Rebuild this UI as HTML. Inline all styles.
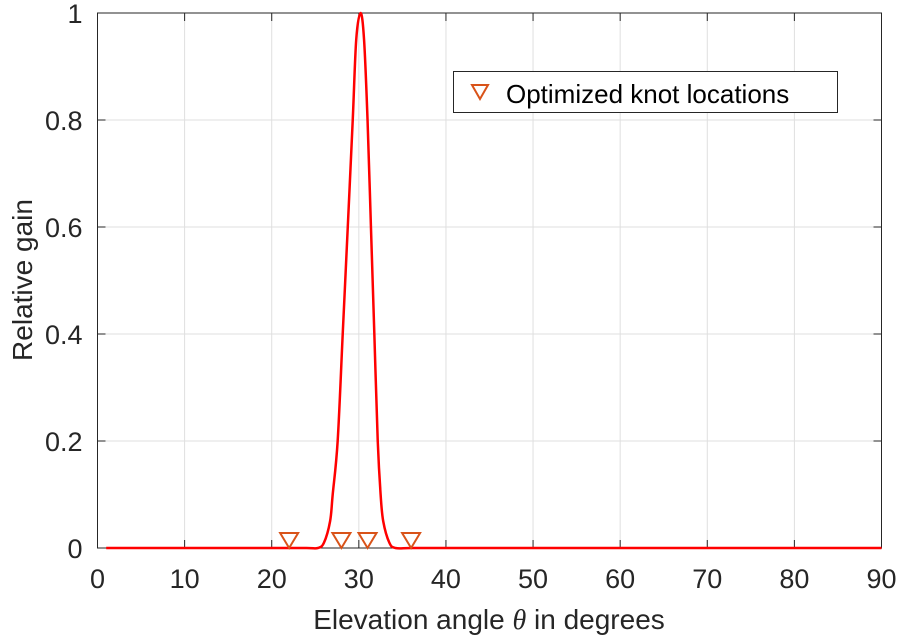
<!DOCTYPE html>
<html><head><meta charset="utf-8">
<style>
html,body{margin:0;padding:0;background:#fff;}
svg{display:block;font-family:"Liberation Sans",Arial,sans-serif;}
</style></head>
<body>
<svg id="chart" width="900" height="638" viewBox="0 0 900 638">
<g id="grid"></g>
<g id="axes"></g>
<g id="series"></g>
<g>
<rect x="453.5" y="71.5" width="384" height="41" fill="#fff" stroke="#262626" stroke-width="1"/>
<polygon points="472,85 488,85 480,99" fill="none" stroke="#D95319" stroke-width="2"/>
<text x="506" y="103" font-size="26" fill="#000">Optimized knot locations</text>
</g>
<text x="489" y="629" font-size="28" text-anchor="middle" fill="#262626">Elevation angle <tspan font-family="Liberation Serif" font-style="italic">θ</tspan> in degrees</text>
<text transform="translate(32,280) rotate(-90)" font-size="28" text-anchor="middle" fill="#262626">Relative gain</text>
</svg>
<script>
const xTicks=[0,10,20,30,40,50,60,70,80,90];
const yTicks=[0,0.2,0.4,0.6,0.8,1];
const yTickLabels=["0","0.2","0.4","0.6","0.8","1"];
const curveX=[1,10,20,24,25.3,26,26.7,27,27.57,28.15,28.73,29.3,29.7,30.2,30.6,31,31.39,31.78,32.17,32.5,32.8,33.5,34.2,36,40,50,60,70,80,90];
const curveY=[0,0,0,0,0,0.01,0.05,0.1,0.2,0.4,0.6,0.8,0.95,1,0.95,0.8,0.6,0.4,0.2,0.1,0.05,0.01,0,0,0,0,0,0,0,0];
const knotX=[22,28,31,36];
const knotY=[0.015,0.015,0.015,0.015];

const X0=97.5,X1=881.5,Y0=548,Y1=13;
const sx=v=>X0+(v-0)/(90-0)*(X1-X0);
const sy=v=>Y0-(v-0)/(1-0)*(Y0-Y1);
const NS="http://www.w3.org/2000/svg";
function mk(tag,parent,attrs){const e=document.createElementNS(NS,tag);for(const k in attrs)e.setAttribute(k,attrs[k]);parent.appendChild(e);return e;}
const grid=document.getElementById('grid'),axes=document.getElementById('axes'),series=document.getElementById('series');

xTicks.forEach(t=>{
  const x=sx(t);
  if(t>0&&t<90){const g=mk('line',grid,{x1:x,x2:x,y1:Y1,y2:Y0,stroke:'#dfdfdf','stroke-width':1});
  
  }
  const tk=mk('line',axes,{x1:x,x2:x,y1:Y0,y2:Y0-8,stroke:'#262626','stroke-width':1});
  
  
  const tk2=mk('line',axes,{x1:x,x2:x,y1:Y1,y2:Y1+8,stroke:'#262626','stroke-width':1});
  
  
  const lb=mk('text',axes,{x:x,y:Y0+40,'font-size':27,'text-anchor':'middle',fill:'#262626'});
  lb.textContent=String(t);
  
  
});
yTicks.forEach((t,i)=>{
  const y=sy(t);
  if(t>0&&t<1){const g=mk('line',grid,{x1:X0,x2:X1,y1:y,y2:y,stroke:'#dfdfdf','stroke-width':1});
  
  }
  const tk=mk('line',axes,{x1:X0,x2:X0+8,y1:y,y2:y,stroke:'#262626','stroke-width':1});
  
  
  const tk2=mk('line',axes,{x1:X1,x2:X1-8,y1:y,y2:y,stroke:'#262626','stroke-width':1});
  
  
  const lb=mk('text',axes,{x:X0-15,y:y+10,'font-size':27,'text-anchor':'end',fill:'#262626'});
  lb.textContent=yTickLabels[i];
  
  
});
const frame=mk('rect',axes,{x:X0,y:Y1,width:X1-X0,height:Y0-Y1,fill:'none',stroke:'#262626','stroke-width':1});



const pts=curveX.map((v,i)=>[sx(v),sy(curveY[i])]);
let d='M'+pts[0][0]+','+pts[0][1];
for(let i=0;i<pts.length-1;i++){
  const p0=pts[Math.max(0,i-1)],p1=pts[i],p2=pts[i+1],p3=pts[Math.min(pts.length-1,i+2)];
  const c1=[p1[0]+(p2[0]-p0[0])/6,p1[1]+(p2[1]-p0[1])/6];
  const c2=[p2[0]-(p3[0]-p1[0])/6,p2[1]-(p3[1]-p1[1])/6];
  d+=' C'+c1[0]+','+c1[1]+' '+c2[0]+','+c2[1]+' '+p2[0]+','+p2[1];
}
const line=mk('path',series,{d:d,fill:'none',stroke:'#ff0000','stroke-width':2.5,'stroke-linejoin':'round'});



knotX.forEach((v,i)=>{
  const x=sx(v),y=sy(knotY[i]);
  const m=mk('polygon',series,{points:(x-9)+','+(y-7)+' '+(x+9)+','+(y-7)+' '+x+','+(y+8),fill:'none',stroke:'#D95319','stroke-width':2});
  
  
});
</script>
</body></html>
